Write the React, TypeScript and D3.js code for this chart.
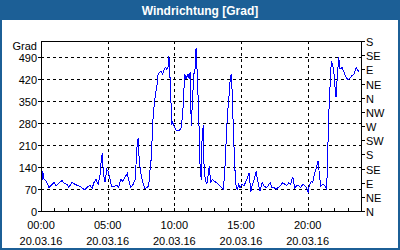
import React from "react";
import * as d3 from "d3";

const title = "Windrichtung [Grad]";
const yLabel = "Grad";
const leftTicks = [0, 70, 140, 210, 280, 350, 420, 490];
const rightTicks = [0, 45, 90, 135, 180, 225, 270, 315, 360, 405, 450, 495, 540];
const rightLabels = ["N", "NE", "E", "SE", "S", "SW", "W", "NW", "N", "NE", "E", "SE", "S"];
const majorHours = [0, 5, 10, 15, 20];
const timeLabels = ["00:00", "05:00", "10:00", "15:00", "20:00"];
const dateLabel = "20.03.16";

const hours = [
  0.08, 0.13, 0.23, 0.38, 0.6, 0.83, 0.98, 1.13, 1.33, 1.58, 1.73, 1.93, 2.1, 2.33, 2.53, 2.7, 2.93, 3.13, 3.28, 3.45,
  3.68, 3.83, 3.98, 4.13, 4.28, 4.43, 4.52, 4.6, 4.67, 4.8, 4.93, 5.05, 5.18, 5.3, 5.48, 5.68, 5.83, 5.98, 6.13, 6.3,
  6.47, 6.58, 6.73, 6.88, 7.07, 7.18, 7.28, 7.37, 7.48, 7.63, 7.78, 7.93, 8.08, 8.18, 8.23, 8.33, 8.42, 8.53, 8.63, 8.72,
  8.78, 8.87, 9.0, 9.13, 9.23, 9.32, 9.43, 9.53, 9.58, 9.62, 9.73, 9.8, 9.88, 9.98, 10.13, 10.37, 10.52, 10.63, 10.73, 10.78,
  10.88, 11.03, 11.12, 11.18, 11.27, 11.38, 11.48, 11.57, 11.63, 11.72, 11.83, 11.93, 12.02, 12.08, 12.17, 12.23, 12.32, 12.43, 12.53, 12.62,
  12.73, 12.83, 12.98, 13.18, 13.43, 13.67, 13.78, 13.88, 13.97, 14.08, 14.18, 14.27, 14.33, 14.42, 14.53, 14.63, 14.72, 14.83, 14.93, 15.08,
  15.23, 15.38, 15.53, 15.62, 15.73, 15.83, 15.98, 16.13, 16.28, 16.43, 16.58, 16.73, 16.88, 17.03, 17.18, 17.33, 17.48, 17.63, 17.78, 17.93,
  18.13, 18.28, 18.43, 18.58, 18.73, 18.88, 19.03, 19.18, 19.33, 19.48, 19.63, 19.78, 19.93, 20.03, 20.12, 20.27, 20.38, 20.48, 20.57, 20.68,
  20.78, 20.87, 20.98, 21.13, 21.28, 21.43, 21.53, 21.62, 21.73, 21.77, 21.88, 21.98, 22.07, 22.13, 22.22, 22.33, 22.43, 22.58, 22.73, 22.88,
  23.03, 23.18, 23.33, 23.48, 23.63, 23.78, 23.87,
];
const values = [
  100, 126, 100, 95, 75, 85, 91, 80, 88, 97, 88, 85, 75, 92, 85, 82, 78, 72, 67, 75,
  82, 72, 91, 100, 85, 116, 163, 184, 121, 91, 132, 126, 100, 78, 78, 82, 75, 100, 95, 107,
  119, 100, 75, 82, 100, 195, 231, 158, 121, 92, 71, 74, 80, 132, 142, 226, 310, 352, 383, 404,
  435, 440, 444, 435, 448, 456, 451, 458, 493, 477, 373, 273, 284, 268, 257, 255, 266, 310, 393, 435,
  420, 435, 420, 440, 270, 370, 440, 455, 518, 435, 305, 142, 100, 231, 273, 142, 100, 85, 111, 142,
  90, 100, 95, 90, 80, 69, 121, 216, 299, 352, 414, 435, 383, 268, 142, 80, 69, 85, 74, 85,
  80, 95, 111, 121, 59, 80, 100, 126, 90, 64, 90, 80, 74, 80, 90, 74, 74, 69, 74, 80,
  90, 85, 80, 90, 85, 109, 74, 80, 80, 74, 85, 80, 74, 59, 80, 95, 90, 111, 126, 142,
  158, 121, 80, 85, 80, 69, 226, 352, 435, 477, 462, 435, 383, 362, 425, 488, 451, 456, 440, 425,
  417, 423, 430, 435, 456, 446, 440,
];

const W = 400;
const H = 250;
const BLUE = "#1c5f96";
const FONT = "'Liberation Sans', Arial, sans-serif";

export default function App() {
  const left = 41, right = 361, top = 41, bottom = 211;
  const x = d3.scaleLinear().domain([0, 24]).range([left, right]);
  const y = d3.scaleLinear().domain([0, 540]).range([bottom, top]);
  const px = (v: number) => Math.round(v) + 0.5;
  const line = d3
    .line<number>()
    .x((_, i) => x(hours[i]))
    .y((v) => y(v));
  const hourTicks = d3.range(1, 24);

  return (
    <svg width={W} height={H} style={{ position: "absolute", left: 0, top: 0 }} fontFamily={FONT}>
      <rect x={0} y={0} width={W} height={H} fill={BLUE} />
      <rect x={2} y={20} width={W - 4} height={H - 22} fill="#ffffff" />
      <text x={W / 2} y={15} textAnchor="middle" fill="#ffffff" fontWeight="bold" fontSize={12}>
        {title}
      </text>

      <g shapeRendering="crispEdges" stroke="#000" strokeWidth={1}>
        {leftTicks.slice(1).map((t) => (
          <line key={"h" + t} x1={left} x2={right} y1={px(y(t))} y2={px(y(t))} strokeDasharray="3,3" />
        ))}
        {majorHours.slice(1).map((h) => (
          <line key={"v" + h} x1={px(x(h))} x2={px(x(h))} y1={top} y2={bottom} strokeDasharray="3,3" />
        ))}
        {hourTicks.map((h) => (
          <line key={"m" + h} x1={px(x(h))} x2={px(x(h))} y1={bottom - 3} y2={bottom} />
        ))}
        {leftTicks.map((t) => (
          <line key={"lt" + t} x1={left - 3} x2={left} y1={px(y(t))} y2={px(y(t))} />
        ))}
        {rightTicks.map((t) => (
          <line key={"rt" + t} x1={right} x2={right + 4} y1={px(y(t))} y2={px(y(t))} />
        ))}
        <rect x={left + 0.5} y={top + 0.5} width={right - left} height={bottom - top} fill="none" />
      </g>

      <path d={line(values) || ""} fill="none" stroke="#0000ff" strokeWidth={1} shapeRendering="crispEdges" />

      <g fontSize={11} fill="#000">
        <text x={37} y={px(y(540)) + 8} textAnchor="end">
          {yLabel}
        </text>
        {leftTicks.map((t) => (
          <text key={"ll" + t} x={37} y={px(y(t)) + 4} textAnchor="end">
            {t}
          </text>
        ))}
        {rightTicks.map((t, i) => (
          <text key={"rl" + t} x={366} y={px(y(t)) + 4}>
            {rightLabels[i]}
          </text>
        ))}
        {majorHours.map((h, i) => (
          <g key={"xl" + h}>
            <text x={x(h)} y={229} textAnchor="middle">
              {timeLabels[i]}
            </text>
            <text x={x(h)} y={245} textAnchor="middle">
              {dateLabel}
            </text>
          </g>
        ))}
      </g>
    </svg>
  );
}
